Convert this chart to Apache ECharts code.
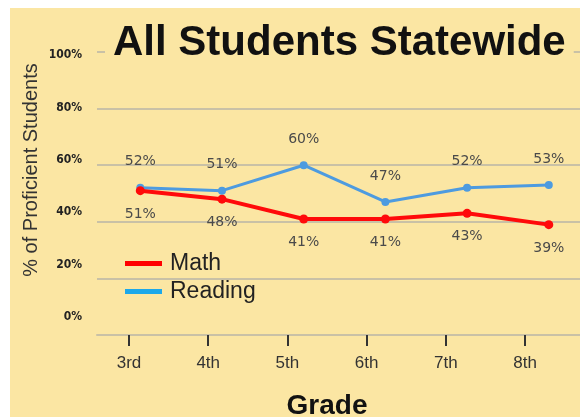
<!DOCTYPE html>
<html>
<head>
<meta charset="utf-8">
<script src="https://cdn.jsdelivr.net/npm/echarts@6/dist/echarts.min.js"></script>
<style>
  body { margin: 0; background: #fff; }
  #chart { position: absolute; left: 10px; top: 8px; width: 570px; height: 409px; background: #fbe6a3; }
</style>
</head>
<body>
<div id="chart"></div>
<script>
const grades = ['3rd', '4th', '5th', '6th', '7th', '8th'];
const mathScores = [51, 48, 41, 41, 43, 39];
const readingScores = [52, 51, 60, 47, 52, 53];
const yTicks = [0, 20, 40, 60, 80, 100];

const myChart = echarts.init(document.getElementById('chart'));
const idx = grades.map((g, i) => i);

const option = {
  animation: false,
  title: {
    text: 'All Students Statewide',
    left: 95,
    top: 12,
    padding: [2, 8, 2, 8],
    backgroundColor: '#fbe6a3',
    textStyle: { fontFamily: 'Liberation Sans, Arial', fontSize: 42, fontWeight: 'bold', color: '#111' }
  },
  legend: {
    orient: 'vertical',
    left: 115,
    top: 244,
    padding: 0,
    itemGap: 5,
    itemWidth: 37,
    itemHeight: 5,
    icon: 'rect',
    textStyle: { fontFamily: 'Liberation Sans, Arial', fontSize: 23, color: '#222', padding: [0, 0, 0, 3] },
    data: [
      { name: 'Math', itemStyle: { color: '#ff0000' } },
      { name: 'Reading', itemStyle: { color: '#1ca8ea' } }
    ]
  },
  grid: { left: 87, right: 0, top: 44, bottom: 82, outerBoundsMode: 'none' },
  xAxis: [
    {
      // grade ticks and labels
      type: 'value',
      min: -0.404,
      max: 5.694,
      splitLine: { show: false },
      axisLine: { show: true, lineStyle: { color: '#c9c1a6', width: 2 } },
      axisTick: { show: true, customValues: idx, length: 11, lineStyle: { color: '#333', width: 2 } },
      axisLabel: {
        customValues: idx,
        formatter: v => grades[v],
        margin: 20,
        fontFamily: 'Liberation Sans, Arial',
        fontSize: 17,
        color: '#333'
      },
      name: 'Grade',
      nameLocation: 'middle',
      nameGap: 57,
      nameTextStyle: { fontFamily: 'Liberation Sans, Arial', fontSize: 28, fontWeight: 'bold', color: '#111', padding: [0, 23, 0, 0] }
    },
    {
      // data positions
      type: 'value',
      show: false,
      min: -0.53,
      max: 5.382,
      splitLine: { show: false }
    }
  ],
  yAxis: [
    {
      type: 'value',
      min: 0,
      max: 100,
      interval: 20,
      axisLine: { show: false },
      axisTick: { show: false },
      axisLabel: { show: false },
      splitLine: { lineStyle: { color: '#c9c1a6', width: 2 } },
      name: '% of Proficient Students',
      nameLocation: 'middle',
      nameGap: 56,
      nameTextStyle: { fontFamily: 'Liberation Sans, Arial', fontSize: 20, color: '#333', padding: [0, 0, 0, 47] }
    },
    {
      // tick labels
      type: 'value',
      position: 'left',
      min: -6.87,
      max: 101.15,
      axisLine: { show: false },
      axisTick: { show: false },
      splitLine: { show: false },
      axisLabel: {
        customValues: yTicks,
        formatter: v => v + '%',
        margin: 15,
        fontFamily: 'DejaVu Sans Condensed, DejaVu Sans',
        fontWeight: 'bold',
        fontSize: 12,
        color: '#222'
      }
    }
  ],
  series: [
    {
      name: 'Math',
      type: 'line',
      xAxisIndex: 1,
      yAxisIndex: 0,
      data: mathScores.map((v, i) => [i, v]),
      symbol: 'circle',
      symbolSize: 9,
      itemStyle: { color: '#ff0a0a' },
      lineStyle: { color: '#ff0a0a', width: 4 },
      label: {
        show: true,
        position: 'bottom',
        distance: 12,
        formatter: p => p.value[1] + '%',
        fontFamily: 'DejaVu Sans',
        fontSize: 14,
        color: '#4a4a4a'
      },
      z: 3
    },
    {
      name: 'Reading',
      type: 'line',
      xAxisIndex: 1,
      yAxisIndex: 0,
      data: readingScores.map((v, i) => [i, v]),
      symbol: 'circle',
      symbolSize: 8,
      itemStyle: { color: '#4d9be0' },
      lineStyle: { color: '#4d9be0', width: 3 },
      label: {
        show: true,
        position: 'top',
        distance: 15,
        formatter: p => p.value[1] + '%',
        fontFamily: 'DejaVu Sans',
        fontSize: 14,
        color: '#4a4a4a'
      },
      z: 2
    }
  ]
};
myChart.setOption(option);
</script>
</body>
</html>
